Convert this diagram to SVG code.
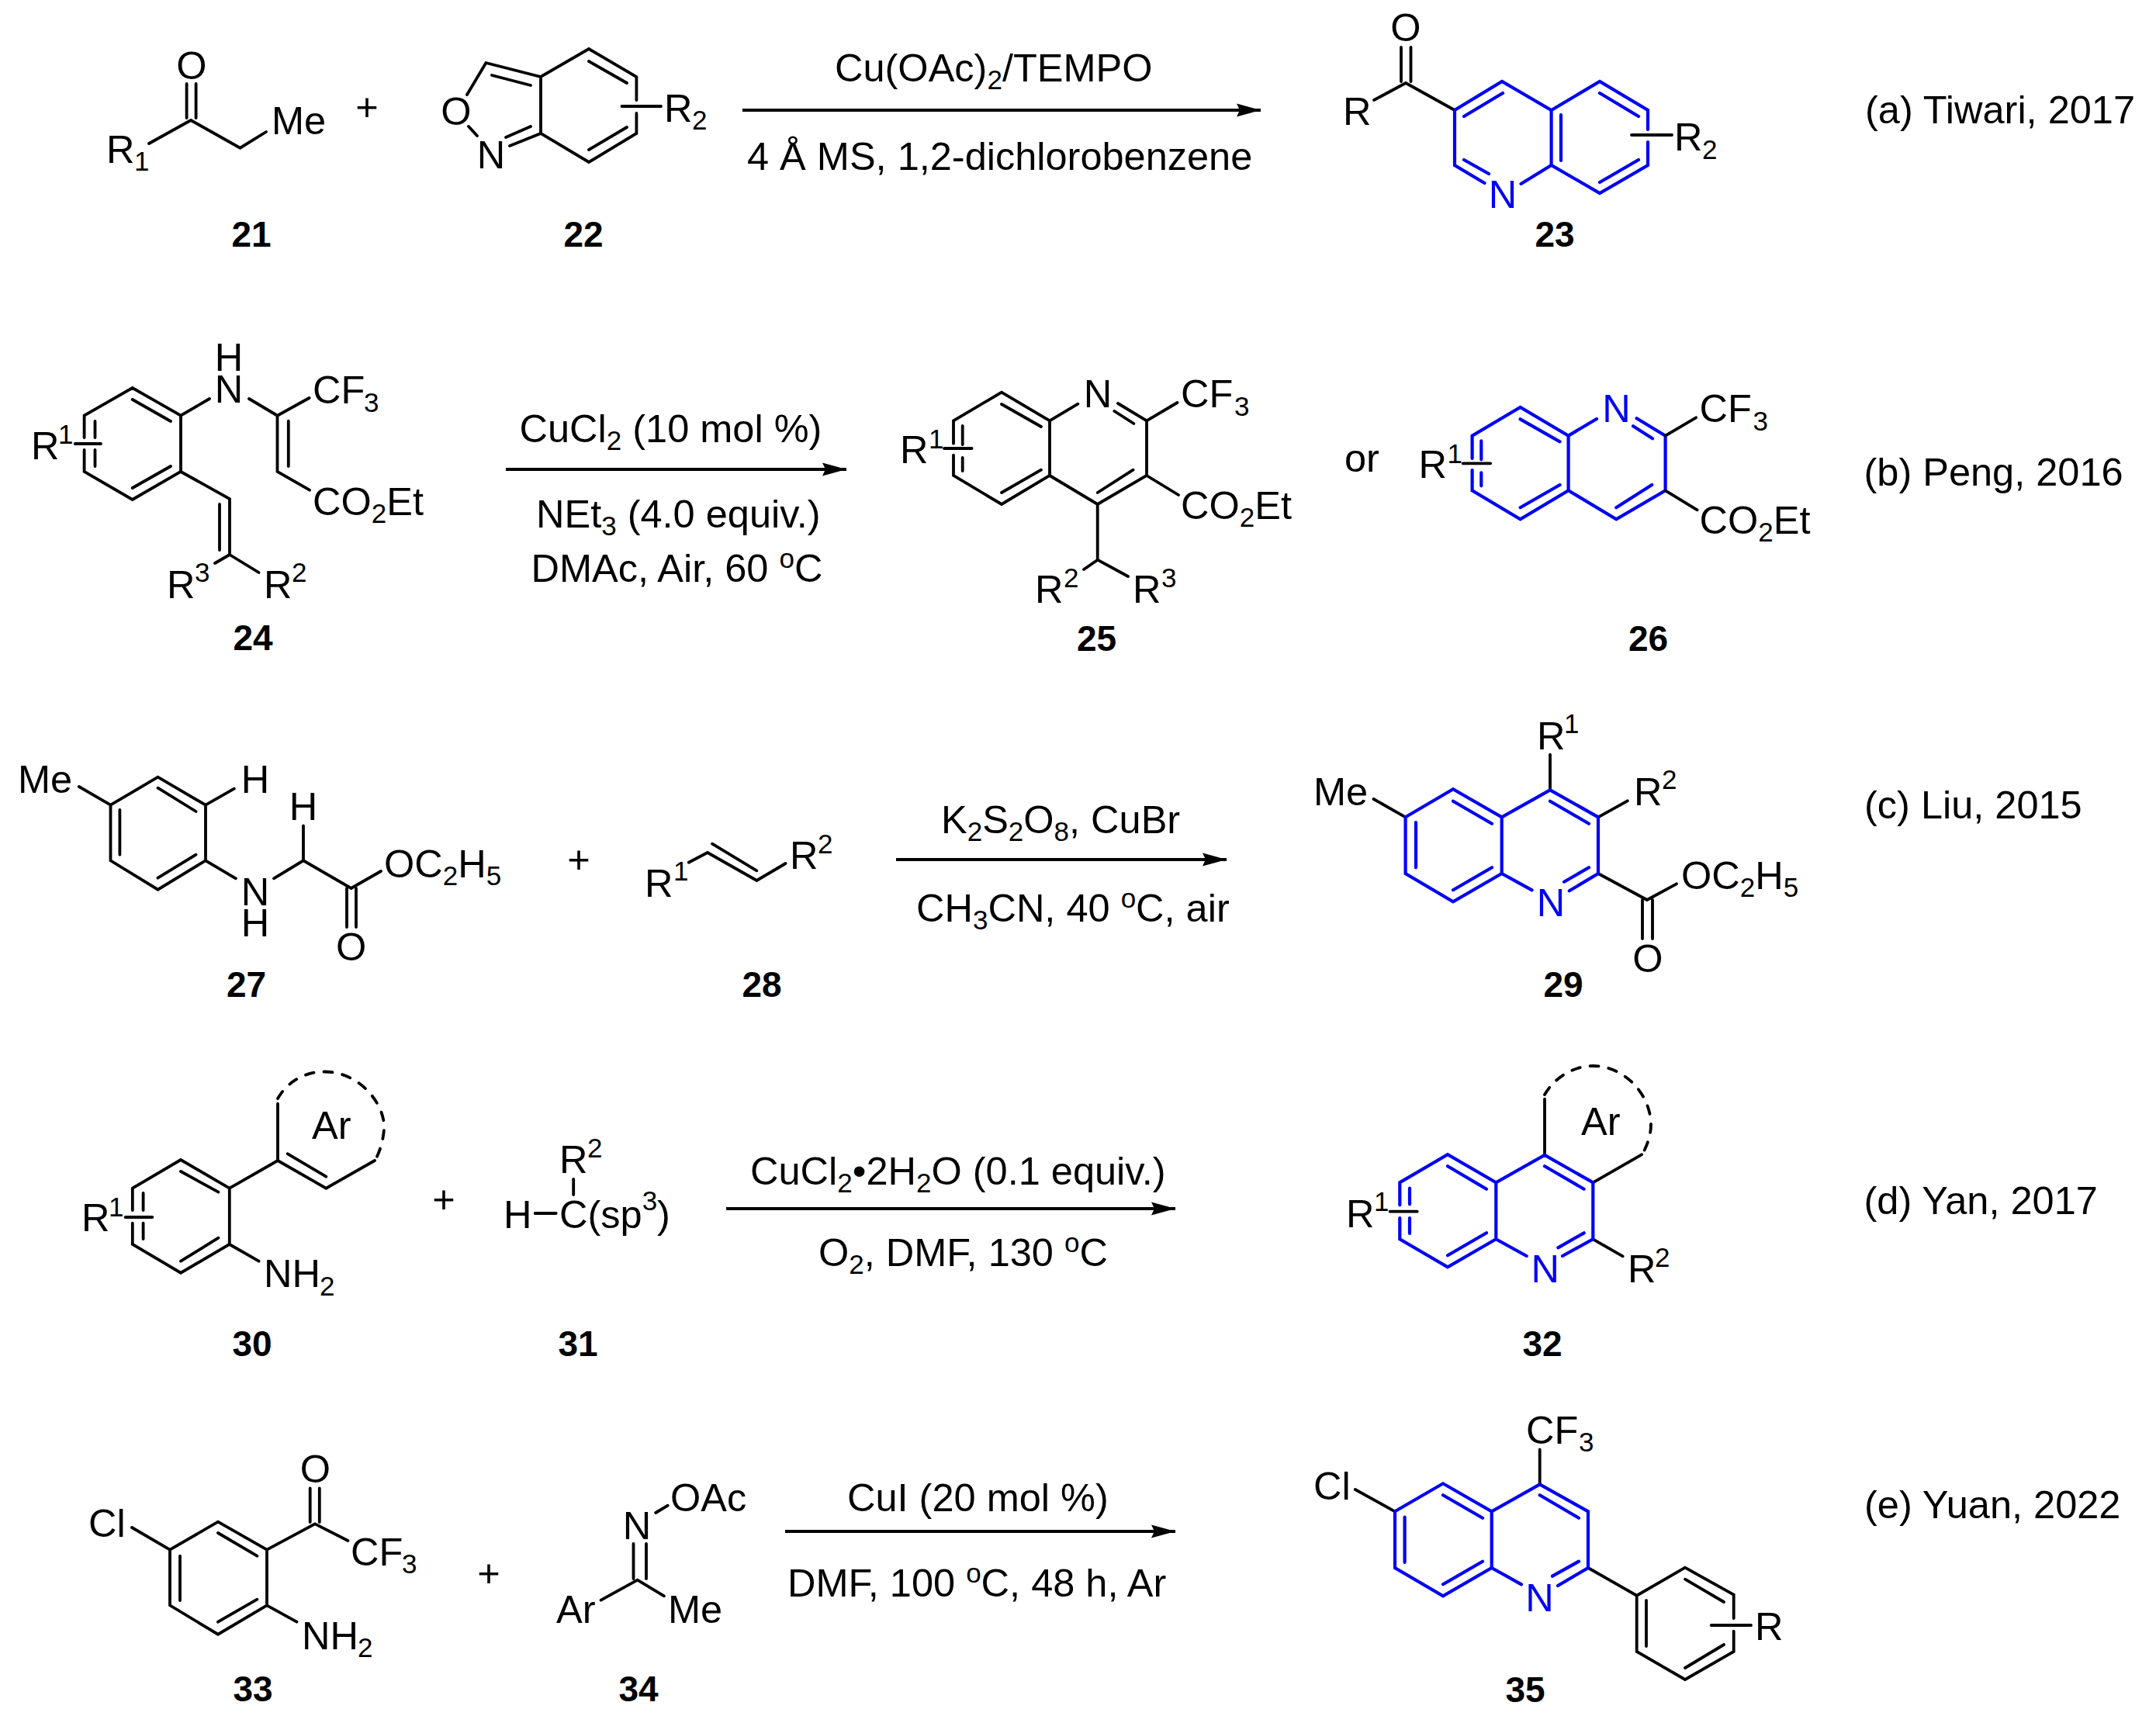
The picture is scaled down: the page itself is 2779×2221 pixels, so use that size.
<svg xmlns="http://www.w3.org/2000/svg" width="2779" height="2221" viewBox="0 0 2779 2221">
<style>
text{font-family:"Liberation Sans",Arial,sans-serif;font-size:50.5px;fill:#000}
.s{font-size:35px}
.n{fill:#0000f5}
.m{text-anchor:middle}
.l{font-weight:bold;font-size:46px;text-anchor:middle}
.k,.u{fill:none;stroke-linecap:round;stroke-linejoin:miter}
.k{stroke:#000;stroke-width:3.8}
.u{stroke:#0000f5;stroke-width:4.2}
.d{fill:none;stroke:#000;stroke-width:3.8;stroke-dasharray:11 13;stroke-linecap:round}
.a{stroke:#000;stroke-width:4;fill:none;marker-end:url(#h)}
</style>
<defs>
<marker id="h" markerUnits="userSpaceOnUse" markerWidth="32" markerHeight="18" refX="31" refY="9" orient="auto" viewBox="0 0 32 18"><path d="M0,0.5L31,9L0,17.5L4,9z" fill="#000"/></marker>
</defs>
<rect width="2779" height="2221" fill="#fff"/>

<g id="connectors">
<path class="a" d="M957,142H1625"/>
<path class="a" d="M652,605H1091"/>
<path class="a" d="M1155,1108H1581"/>
<path class="a" d="M936,1558H1515"/>
<path class="a" d="M1012,1974H1515"/>
</g>

<g id="m21">
<path class="k" d="M240.6,108V152M252.6,108V152M246,155L192,185M246,155L309.5,190.7L343,170"/>
<text class="m" x="247" y="102">O</text>
<text x="137" y="210">R<tspan class="s" x="173" y="220">1</tspan></text>
<text x="350" y="173">Me</text>
<text class="l" x="324" y="318">21</text>
</g>
<text id="plus-a" class="m" x="473" y="155">+</text>
<g id="m22">
<path class="k" d="M626.4,81L602,122M626.4,81L697,99L759,63L820.4,99V129M820.4,146V172L759,209L697,172V99M634,97L684,110M604,163L615,175M697,172L657,188M684,163L652,177M759,79L808,107M808,164L759,193M801.5,137H852"/>
<text class="m" x="588" y="161">O</text>
<text class="m" x="633" y="217">N</text>
<text x="856" y="157">R<tspan class="s" x="892" y="167">2</tspan></text>
<text class="l" x="752" y="318">22</text>
</g>
<g id="cond-a">
<text x="1076" y="105">Cu(OAc)<tspan class="s" dy="10">2</tspan><tspan dy="-10">/TEMPO</tspan></text>
<text x="963" y="219">4 Å MS, 1,2-dichlorobenzene</text>
</g>
<g id="m23">
<path class="k" d="M1806,61V105M1818.5,61V105M1771,129L1812,107L1875,142M2103,174H2155"/>
<path class="u" d="M1913.5,236L1875,213V142L1936,105L1999.6,142L2062,105L2124,142V167M2124,183V213L2062,249L1999.6,213L1960.5,237M1999.6,142V213M1887,150L1937,120M1887,206L1919,224M2012,148V207M2062,120L2112,150M2062,235L2112,206"/>
<text class="m" x="1812" y="53">O</text>
<text x="1731" y="161">R</text>
<text class="m n" x="1937" y="268">N</text>
<text x="2158" y="194">R<tspan class="s" x="2194" y="205">2</tspan></text>
<text class="l" x="2004" y="318">23</text>
</g>
<text id="ref-a" x="2404" y="159">(a) Tiwari, 2017</text>

<g id="m24">
<path class="k" d="M108.6,564V535.7L170.7,500L233,535.7V608L170.7,644L108.6,608V580M170.7,515L220,543M170.7,629L220,601M122.5,543V564M122.5,580V601M96.8,572H130M233,535.7L270,514M321,514L357.5,535.7L398.6,513M357.5,535.7V608L399,631.7M371.8,542.7V601M233,608L296,643V715M283,650V709M296,715L277,726M296,715L333.6,738"/>
<text x="40" y="592">R<tspan class="s" x="75" y="572">1</tspan></text>
<text class="m" x="295" y="478">H</text>
<text class="m" x="295" y="519">N</text>
<text x="403" y="520">CF<tspan class="s" x="469" y="531">3</tspan></text>
<text x="403" y="664">CO<tspan class="s" dy="10">2</tspan><tspan dy="-10">Et</tspan></text>
<text x="215" y="771">R<tspan class="s" x="251" y="750">3</tspan></text>
<text x="340" y="771">R<tspan class="s" x="376" y="750">2</tspan></text>
<text class="l" x="326" y="838">24</text>
</g>
<g id="cond-b">
<text x="669.5" y="570">CuCl<tspan class="s" dy="10">2</tspan><tspan dy="-10"> (10 mol %)</tspan></text>
<text x="691" y="679.5">NEt<tspan class="s" dy="10">3</tspan><tspan dy="-10"> (4.0 equiv.)</tspan></text>
<text x="684.5" y="749.5">DMAc, Air, 60 <tspan class="s" dy="-18">o</tspan><tspan dy="18">C</tspan></text>
</g>
<g id="m25">
<path class="k" d="M1229,571.7V542.3L1291,505.7L1353,542.3V613L1291,650L1229,613V586.7M1291,521L1342,550M1291,635L1342,605.7M1240.7,549V573M1240.7,590V607M1217,578H1252.6M1353,542.3L1389.4,520.7M1441,520L1478,542.3V613L1414.7,650L1353,613M1436.4,530L1461.4,546M1460.6,605.7L1414.7,635M1478,542.3L1517.5,519M1478,613L1519,638M1414.7,650V721.7L1397,734M1414.7,721.7L1454,743"/>
<text x="1160" y="597">R<tspan class="s" x="1197" y="578">1</tspan></text>
<text class="m" x="1415" y="525">N</text>
<text x="1522" y="525">CF<tspan class="s" x="1591" y="536">3</tspan></text>
<text x="1522" y="669">CO<tspan class="s" dy="10">2</tspan><tspan dy="-10">Et</tspan></text>
<text x="1334" y="777">R<tspan class="s" x="1371" y="757">2</tspan></text>
<text x="1460" y="777">R<tspan class="s" x="1497" y="757">3</tspan></text>
<text class="l" x="1413.5" y="839">25</text>
</g>
<text id="or" x="1733" y="608">or</text>
<g id="m26" transform="translate(668.6,19.3)">
<path class="u" d="M1229,571.7V542.3L1291,505.7L1353,542.3V613L1291,650L1229,613V586.7M1291,521L1342,550M1291,635L1342,605.7M1240.7,549V573M1240.7,590V607M1353,542.3L1389.4,520.7M1441,520L1478,542.3V613L1414.7,650L1353,613M1436.4,530L1461.4,546M1460.6,605.7L1414.7,635"/>
<path class="k" d="M1217,578H1252.6M1478,542.3L1517.5,519M1478,613L1519,638"/>
<text x="1160" y="597">R<tspan class="s" x="1197" y="578">1</tspan></text>
<text class="m n" x="1415" y="525">N</text>
<text x="1522" y="525">CF<tspan class="s" x="1591" y="536">3</tspan></text>
<text x="1522" y="669">CO<tspan class="s" dy="10">2</tspan><tspan dy="-10">Et</tspan></text>
</g>
<text id="label-26" class="l" x="2124.5" y="839">26</text>
<text id="ref-b" x="2402.5" y="626">(b) Peng, 2016</text>

<g id="m27">
<path class="k" d="M142.5,1037.7L203.5,1001.7L265,1037.7V1109.3L203.5,1146.7L142.5,1109.3ZM203.5,1015.7L252.6,1046M203.5,1131.7L252.6,1101.7M154.4,1044V1101.7M101.8,1014L142.5,1037.7M265,1037.7L301.8,1016.7M265,1109.3L303.9,1132.3M353,1132.3L391,1109.3L452.6,1145L491,1123M391,1064.3V1109.3M447,1145V1195M459,1145V1195"/>
<text x="23" y="1022">Me</text>
<text class="m" x="329" y="1022">H</text>
<text class="m" x="391" y="1057">H</text>
<text class="m" x="329" y="1167">N</text>
<text class="m" x="329" y="1207">H</text>
<text x="495" y="1131">OC<tspan class="s" dy="10">2</tspan><tspan dy="-10">H</tspan><tspan class="s" dy="10">5</tspan></text>
<text class="m" x="452.6" y="1238">O</text>
<text class="l" x="317.6" y="1285">27</text>
</g>
<text id="plus-c" class="m" x="746" y="1125">+</text>
<g id="m28">
<path class="k" d="M887.7,1111.7L912,1099L975.4,1135L1012.6,1113M918,1087.7L975.4,1122.3"/>
<text x="831" y="1156">R<tspan class="s" x="868" y="1135">1</tspan></text>
<text x="1018" y="1120">R<tspan class="s" x="1054" y="1100">2</tspan></text>
<text class="l" x="982" y="1285">28</text>
</g>
<g id="cond-c">
<text x="1213" y="1074">K<tspan class="s" dy="10">2</tspan><tspan dy="-10">S</tspan><tspan class="s" dy="10">2</tspan><tspan dy="-10">O</tspan><tspan class="s" dy="10">8</tspan><tspan dy="-10">, CuBr</tspan></text>
<text x="1181" y="1188">CH<tspan class="s" dy="10">3</tspan><tspan dy="-10">CN, 40 </tspan><tspan class="s" dy="-18">o</tspan><tspan dy="18">C, air</tspan></text>
</g>
<g id="m29">
<path class="k" d="M1770.5,1030L1811.6,1053.3M1998,972.7V1018.3M2060,1053.3L2097.8,1032.3M2060,1126L2123,1160L2161,1139.3M2117,1160V1210M2130,1160V1210"/>
<path class="u" d="M1811.6,1053.3L1873,1017.3L1935.7,1053.3L1998,1018.3L2060,1053.3V1126L2022.8,1148.3M1974.6,1147.3L1935.7,1126V1053.3M1935.7,1126L1873,1162.3L1811.6,1126V1053.3M1873,1032.7L1923,1061.7M1873,1147.3L1923,1118.3M1825,1060V1118.3M1998,1032.7L2048,1061.7M2048,1118.3L2016,1136.7"/>
<text x="1693" y="1038">Me</text>
<text x="1981" y="966">R<tspan class="s" x="2016" y="945">1</tspan></text>
<text x="2106" y="1038">R<tspan class="s" x="2142" y="1017">2</tspan></text>
<text class="m n" x="1999" y="1181">N</text>
<text x="2167" y="1146">OC<tspan class="s" dy="10">2</tspan><tspan dy="-10">H</tspan><tspan class="s" dy="10">5</tspan></text>
<text class="m" x="2124" y="1253">O</text>
<text class="l" x="2015" y="1285">29</text>
</g>
<text id="ref-c" x="2403" y="1055">(c) Liu, 2015</text>

<g id="m30">
<path class="k" d="M170.8,1560V1531.7L233,1495L295.8,1531.7V1604L233,1640.7L170.8,1604V1576.7M233,1510L281.5,1536.7M233,1625.7L281.5,1595.7M184.6,1538V1560M184.6,1576.7V1597M161.6,1569H196.3M295.8,1604L333.6,1625.7M295.8,1531.7L358,1496L420.3,1531.7L483,1496M370.8,1487.3L420.3,1516.7M358,1496V1422.7"/>
<path class="d" d="M358,1416C372,1392 396,1381 419,1381.5C465,1382 497,1425 495,1455C494,1470 490,1483 484,1495"/>
<text x="105" y="1587">R<tspan class="s" x="140" y="1568">1</tspan></text>
<text x="340" y="1659">NH<tspan class="s" x="412" y="1670">2</tspan></text>
<text x="402" y="1468">Ar</text>
<text class="l" x="325" y="1748">30</text>
</g>
<text id="plus-d" class="m" x="572" y="1563">+</text>
<g id="m31">
<path class="k" d="M739.2,1520V1540M689.7,1564H716.7"/>
<text x="721" y="1512">R<tspan class="s" x="757" y="1492">2</tspan></text>
<text x="649" y="1583">H</text>
<text x="721" y="1583">C(sp<tspan class="s" dy="-23">3</tspan><tspan dy="23">)</tspan></text>
<text class="l" x="745" y="1748">31</text>
</g>
<g id="cond-d">
<text x="967" y="1527">CuCl<tspan class="s" dy="10">2</tspan><tspan dy="-10">•2H</tspan><tspan class="s" dy="10">2</tspan><tspan dy="-10">O (0.1 equiv.)</tspan></text>
<text x="1055" y="1632">O<tspan class="s" dy="10">2</tspan><tspan dy="-10">, DMF, 130 </tspan><tspan class="s" dy="-18">o</tspan><tspan dy="18">C</tspan></text>
</g>
<g id="m32">
<path class="k" d="M1791.7,1561.7H1826.7M1991,1489V1416.7M2053.3,1524.3L2116,1488.3M2053.3,1597.3L2091.7,1619.3"/>
<path class="d" d="M1991,1411C2005,1387 2030,1374 2053,1374C2095,1374 2128,1412 2128,1450C2128,1462 2124,1474 2118,1486"/>
<path class="u" d="M1804.3,1553.3V1524.3L1866,1488.3L1928.3,1524.3L1991,1489L2053.3,1524.3V1597.3L2014,1619M1967.7,1619L1928.3,1597.3V1524.3M1928.3,1597.3L1866,1633.3L1804.3,1597.3V1570M1866,1503.3L1916,1532.7M1866,1618.3L1916,1589.3M1817,1531.7V1552.3M1817,1570V1590M1991,1503.3L2041.7,1532.7M2041.7,1589.3L2008.3,1608.3"/>
<text x="1735" y="1582">R<tspan class="s" x="1771" y="1561">1</tspan></text>
<text class="m n" x="1991.7" y="1653">N</text>
<text x="2098" y="1653">R<tspan class="s" x="2133" y="1633">2</tspan></text>
<text x="2038" y="1463">Ar</text>
<text class="l" x="1988" y="1748">32</text>
</g>
<text id="ref-d" x="2402.5" y="1565">(d) Yan, 2017</text>

<g id="m33">
<path class="k" d="M219,1997.7L281,1961.7L344,1997.7V2069.3L281,2106.7L219,2069.3ZM281,1976L331.4,2005.7M281,2090.7L331.4,2061.7M232,2005.7V2063M170,1969L219,1997.7M344,1997.7L406,1964.3L448.5,1986M399.7,1918.3V1962M411.8,1918.3V1962M344,2069.3L382.5,2090.7"/>
<text x="114" y="1981">Cl</text>
<text class="m" x="406.5" y="1911">O</text>
<text x="452" y="2018">CF<tspan class="s" x="518" y="2028">3</tspan></text>
<text x="389" y="2126">NH<tspan class="s" x="461" y="2136">2</tspan></text>
<text class="l" x="326" y="2193">33</text>
</g>
<text id="plus-e" class="m" x="630" y="2045">+</text>
<g id="m34">
<path class="k" d="M845.2,1950L860.7,1940.7M816.5,1990V2035M833,1990V2035M774.6,2062.7L821.7,2036.7L856,2057.3"/>
<text class="m" x="821" y="1984">N</text>
<text x="864" y="1948">OAc</text>
<text x="717" y="2092">Ar</text>
<text x="861" y="2092">Me</text>
<text class="l" x="823" y="2193">34</text>
</g>
<g id="cond-e">
<text x="1092" y="1948">CuI (20 mol %)</text>
<text x="1015" y="2058">DMF, 100 <tspan class="s" dy="-18">o</tspan><tspan dy="18">C, 48 h, Ar</tspan></text>
</g>
<g id="m35">
<path class="k" d="M1984.7,1868.3V1913.3M1746.8,1920L1798,1948.3M2047,2021L2109.7,2056.7L2172,2020.7L2234.7,2055.7V2086M2234.7,2102.7V2129L2172,2165L2109.7,2129V2056.7M2172,2035.7L2222,2065M2222,2120L2172,2150M2122,2063V2122M2205.7,2095H2257"/>
<path class="u" d="M1798,1948.3L1860,1912.3L1922.7,1948.3L1984.7,1913.3L2047,1948.3V2021L2008,2044M1961,2042.3L1922.7,2021V1948.3M1922.7,2021L1860,2057.3L1798,2021V1948.3M1860,1927.3L1911,1956.7M1860,2042.3L1911,2012.7M1810.6,1955.7V2014M1984.7,1927.3L2035,1956.7M2035,2012.7L2001,2031.7"/>
<text x="1967" y="1861">CF<tspan class="s" x="2035" y="1871">3</tspan></text>
<text x="1693" y="1933">Cl</text>
<text class="m n" x="1984.5" y="2077">N</text>
<text x="2262" y="2114">R</text>
<text class="l" x="1966" y="2194">35</text>
</g>
<text id="ref-e" x="2403" y="1957">(e) Yuan, 2022</text>
</svg>
